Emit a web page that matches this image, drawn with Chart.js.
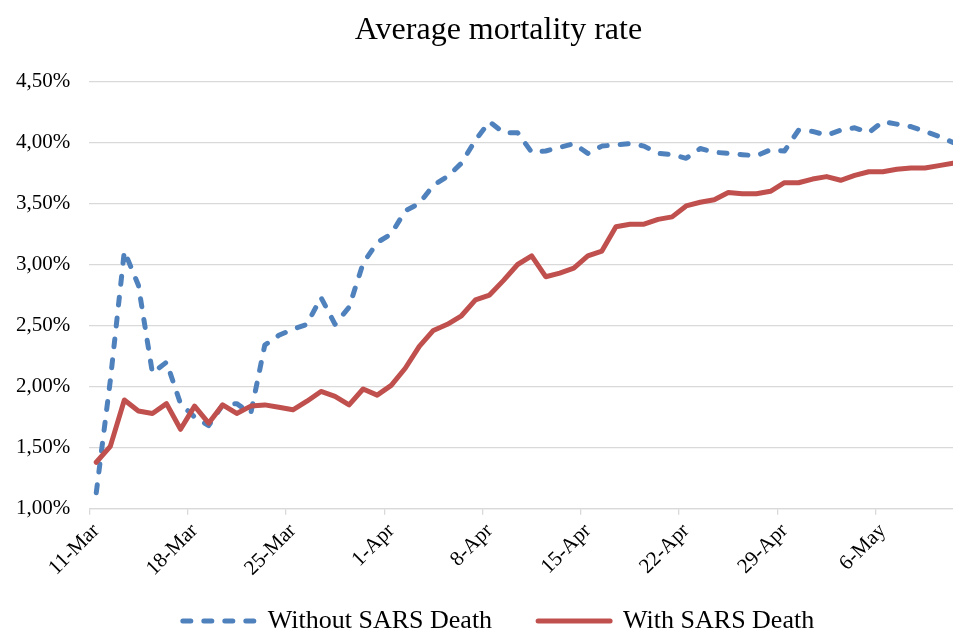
<!DOCTYPE html>
<html>
<head>
<meta charset="utf-8">
<title>Average mortality rate</title>
<script src="https://cdn.jsdelivr.net/npm/chart.js@4.4.1/dist/chart.umd.min.js"></script>
<style>
  html, body { margin: 0; padding: 0; background: #fff; }
  canvas { display: block; }
</style>
</head>
<body>
<canvas id="mortalityChart" width="953" height="634"></canvas>
<script>
const dates = [
    '11-Mar', '12-Mar', '13-Mar', '14-Mar', '15-Mar', '16-Mar', '17-Mar', '18-Mar', '19-Mar', '20-Mar',
    '21-Mar', '22-Mar', '23-Mar', '24-Mar', '25-Mar', '26-Mar', '27-Mar', '28-Mar', '29-Mar', '30-Mar',
    '31-Mar', '1-Apr', '2-Apr', '3-Apr', '4-Apr', '5-Apr', '6-Apr', '7-Apr', '8-Apr', '9-Apr',
    '10-Apr', '11-Apr', '12-Apr', '13-Apr', '14-Apr', '15-Apr', '16-Apr', '17-Apr', '18-Apr', '19-Apr',
    '20-Apr', '21-Apr', '22-Apr', '23-Apr', '24-Apr', '25-Apr', '26-Apr', '27-Apr', '28-Apr', '29-Apr',
    '30-Apr', '1-May', '2-May', '3-May', '4-May', '5-May', '6-May', '7-May', '8-May', '9-May',
    '10-May', '11-May'
];

// mortality rate in %
const withoutSars = [
    1.13, 2.05, 3.11, 2.83, 2.11, 2.20, 1.86, 1.75, 1.68, 1.85,
    1.86, 1.78, 2.34, 2.42, 2.47, 2.51, 2.73, 2.51, 2.65, 3.01,
    3.18, 3.25, 3.44, 3.50, 3.65, 3.72, 3.83, 4.02, 4.17, 4.08,
    4.08, 3.92, 3.93, 3.96, 3.99, 3.91, 3.97, 3.98, 3.99, 3.97,
    3.91, 3.90, 3.87, 3.95, 3.92, 3.91, 3.90, 3.89, 3.94, 3.93,
    4.10, 4.09, 4.06, 4.10, 4.12, 4.08, 4.17, 4.15, 4.13, 4.09,
    4.05, 4.00
];
const withSars = [
    1.38, 1.51, 1.89, 1.80, 1.78, 1.86, 1.65, 1.84, 1.70, 1.85,
    1.78, 1.84, 1.85, 1.83, 1.81, 1.88, 1.96, 1.92, 1.85, 1.98,
    1.93, 2.01, 2.15, 2.33, 2.46, 2.51, 2.58, 2.71, 2.75, 2.87,
    3.00, 3.07, 2.90, 2.93, 2.97, 3.07, 3.11, 3.31, 3.33, 3.33,
    3.37, 3.39, 3.48, 3.51, 3.53, 3.59, 3.58, 3.58, 3.60, 3.67,
    3.67, 3.70, 3.72, 3.69, 3.73, 3.76, 3.76, 3.78, 3.79, 3.79,
    3.81, 3.83
];

const xTickDays = [0, 7, 14, 21, 28, 35, 42, 49, 56]; // weekly labels
const yTickLabels = ['1,00%', '1,50%', '2,00%', '2,50%', '3,00%', '3,50%', '4,00%', '4,50%'];

// points sit in the middle of each day slot
const toPoints = (arr) => arr.map((v, i) => ({ x: i + 0.5, y: v }));

const font = 'Liberation Serif, Times New Roman, serif';
const gridColor = '#d9d9d9';

// title and legend sit a bit right of the canvas middle in the original,
// and the legend hangs lower than chart.js would put it
const shiftBoxes = {
    id: 'shiftBoxes',
    afterLayout(chart) {
        chart.titleBlock.left = 44;
        const lg = chart.legend;
        const h = lg.bottom - lg.top;
        lg.left = 44;
        lg.top = 562;
        lg.bottom = 562 + h;
    },
};

const ctx = document.getElementById('mortalityChart').getContext('2d');
const myChart = new Chart(ctx, {
    type: 'line',
    data: {
        datasets: [
            {
                label: 'Without SARS Death',
                data: toPoints(withoutSars),
                borderColor: '#4f81bd',
                backgroundColor: '#4f81bd',
                borderWidth: 5,
                borderDash: [8, 13],
                borderCapStyle: 'round',
                borderJoinStyle: 'round',
                pointRadius: 0,
                fill: false,
                order: 1,
            },
            {
                label: 'With SARS Death',
                data: toPoints(withSars),
                borderColor: '#c0504d',
                backgroundColor: '#c0504d',
                borderWidth: 5,
                borderCapStyle: 'round',
                borderJoinStyle: 'round',
                pointRadius: 0,
                fill: false,
                order: 0, // red drawn on top
            },
        ],
    },
    plugins: [shiftBoxes],
    options: {
        responsive: false,
        animation: false,
        layout: {
            padding: { left: -3, right: 0, top: 0, bottom: -33 },
        },
        plugins: {
            title: {
                display: true,
                text: 'Average mortality rate',
                color: '#000',
                font: { family: font, size: 32, weight: 'normal' },
                padding: { top: 11, bottom: 32 },
            },
            legend: {
                position: 'bottom',
                labels: {
                    color: '#000',
                    font: { family: font, size: 26 },
                    usePointStyle: true,
                    pointStyle: 'line',
                    pointStyleWidth: 72,
                    padding: 46,
                    sort: (a, b) => a.datasetIndex - b.datasetIndex,
                    generateLabels: (chart) => {
                        const items = Chart.defaults.plugins.legend.labels.generateLabels(chart);
                        items.forEach((item) => {
                            const ds = chart.data.datasets[item.datasetIndex];
                            item.lineDash = ds.borderDash || [];
                            item.lineCap = 'round';
                            item.lineWidth = ds.borderWidth;
                        });
                        return items;
                    },
                },
            },
            tooltip: { enabled: false },
        },
        scales: {
            x: {
                type: 'linear',
                min: 0,
                max: dates.length - 0.5,
                afterBuildTicks: (axis) => {
                    axis.ticks = xTickDays.map((d) => ({ value: d }));
                },
                ticks: {
                    color: '#000',
                    font: { family: font, size: 21 },
                    minRotation: 45,
                    maxRotation: 45,
                    padding: 4,
                    labelOffset: 7,
                    callback: (value) => dates[value],
                },
                grid: {
                    drawOnChartArea: false,
                    drawTicks: true,
                    tickLength: 6,
                    color: gridColor,
                    lineWidth: 1.3,
                },
                border: { display: true, color: gridColor, width: 1.3 },
            },
            y: {
                min: 1,
                max: 4.5,
                ticks: {
                    stepSize: 0.5,
                    color: '#000',
                    font: { family: font, size: 21 },
                    padding: 19,
                    callback: (value) => yTickLabels[Math.round((value - 1) / 0.5)],
                },
                grid: {
                    color: gridColor,
                    lineWidth: 1.3,
                    drawTicks: false,
                },
                border: { display: false },
            },
        },
    },
});
</script>
</body>
</html>
